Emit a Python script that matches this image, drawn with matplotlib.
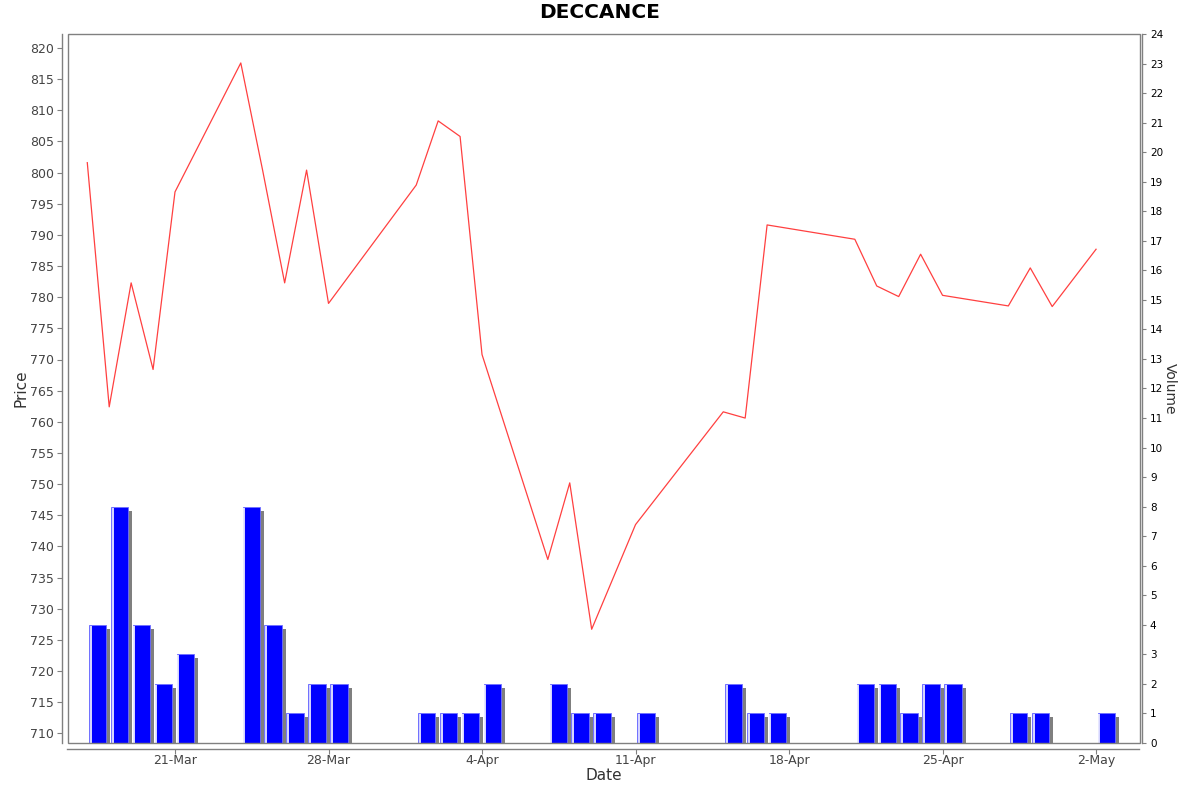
import matplotlib
matplotlib.use("Agg")
import matplotlib.pyplot as plt
import matplotlib.dates as mdates
import matplotlib.transforms as mtransforms
from matplotlib.patches import Rectangle
import numpy as np
import pandas as pd

title = "DECCANCE"
dates = ["2025-03-17", "2025-03-18", "2025-03-19", "2025-03-20", "2025-03-21",
         "2025-03-24", "2025-03-25", "2025-03-26", "2025-03-27", "2025-03-28",
         "2025-04-01", "2025-04-02", "2025-04-03", "2025-04-04",
         "2025-04-07", "2025-04-08", "2025-04-09", "2025-04-11",
         "2025-04-15", "2025-04-16", "2025-04-17",
         "2025-04-21", "2025-04-22", "2025-04-23", "2025-04-24", "2025-04-25",
         "2025-04-28", "2025-04-29", "2025-04-30", "2025-05-02"]
prices = [801.6, 762.4, 782.3, 768.4, 796.9,
          817.6, 800.3, 782.3, 800.4, 779.0,
          798.0, 808.3, 805.8, 770.8,
          737.9, 750.2, 726.7, 743.5,
          761.6, 760.6, 791.6,
          789.3, 781.8, 780.1, 786.9, 780.3,
          778.6, 784.7, 778.5, 787.7]
volumes = [4, 8, 4, 2, 3,
           8, 4, 1, 2, 2,
           1, 1, 1, 2,
           2, 1, 1, 1,
           2, 1, 1,
           2, 2, 1, 2, 2,
           1, 1, 0, 1]
xtick_dates = ["2025-03-21", "2025-03-28", "2025-04-04", "2025-04-11",
               "2025-04-18", "2025-04-25", "2025-05-02"]
price_ticks = list(range(710, 821, 5))
volume_ticks = list(range(0, 25))

W, H = 1200, 792
fig = plt.figure(figsize=(W / 100, H / 100), dpi=100)
L, R, T, B = 67.5, 1139.5, 34, 743
ax = fig.add_axes([L / W, 1 - B / H, (R - L) / W, (B - T) / H])
ax2 = ax.twinx()

x = mdates.date2num(pd.to_datetime(dates))
x0 = mdates.date2num(pd.Timestamp("2025-03-21"))
px_per_day = 21.93
xmin = x0 - (175 - L) / px_per_day
xmax = x0 + (R - 175) / px_per_day

tick_gray = "#444444"
axis_gray = "#808080"

# volume bars on right axis
bar_left = x + 0.08
bar_w = 0.79
shadow_tr = ax2.transData + mtransforms.ScaledTranslation(4 / 100, -4 / 100, fig.dpi_scale_trans)
ax2.bar(bar_left, volumes, width=bar_w, align="edge", color="#7f7f7f",
        linewidth=0, transform=shadow_tr, zorder=1)
ax2.bar(bar_left, volumes, width=bar_w, align="edge", color="#0000ff",
        edgecolor="#7070ff", linewidth=0.6, zorder=2)
hl_tr = ax2.transData + mtransforms.ScaledTranslation(1.6 / 100, 0, fig.dpi_scale_trans)
for bl, v in zip(bar_left, volumes):
    if v > 0:
        ax2.plot([bl, bl], [0, v - 0.03], color="white", linewidth=1.2,
                 transform=hl_tr, zorder=3, solid_capstyle="butt")

ax2.set_ylim(0, 24)
ax2.set_yticks(volume_ticks)
ax2.tick_params(axis="y", labelsize=7.5, colors="black", length=3, width=0.8,
                direction="out", pad=3)
ax2.tick_params(axis="y", color=axis_gray)
ax2.set_ylabel("Volume", rotation=270, fontsize=10, color="#333333", labelpad=10)

# price line on left axis (draw above bars)
ax.set_zorder(ax2.get_zorder() + 1)
ax.patch.set_visible(False)
ax.plot(x, prices, color="#ff4040", linewidth=0.9, zorder=5)
ax.set_xlim(xmin, xmax)
ax2.set_xlim(xmin, xmax)
ax.set_ylim(710 - (B - 733.3) / 6.23, 820 + (48 - T) / 6.23)
ax.set_yticks(price_ticks)
ax.set_xticks(mdates.date2num(pd.to_datetime(xtick_dates)))
ax.xaxis.set_major_formatter(mdates.DateFormatter("%-d-%b"))
ax.tick_params(axis="both", labelsize=9, colors=tick_gray, length=3.5, width=0.8,
               direction="out", pad=2)
ax.tick_params(axis="x", pad=0.5)
ax.tick_params(axis="both", color=axis_gray)

ax.set_xlabel("Date", fontsize=11, color="#333333", labelpad=1)
ax.set_ylabel("Price", fontsize=11, color="#333333", labelpad=1)

# spines: frame + offset axis lines
for a in (ax, ax2):
    for s in a.spines.values():
        s.set_visible(False)
for side in ("left", "bottom"):
    ax.spines[side].set_visible(True)
    ax.spines[side].set_position(("outward", 4))
    ax.spines[side].set_color(axis_gray)
    ax.spines[side].set_linewidth(1.0)
ax2.spines["right"].set_visible(True)
ax2.spines["right"].set_position(("outward", 1.5))
ax2.spines["right"].set_color(axis_gray)
ax2.spines["right"].set_linewidth(1.0)

frame = Rectangle((0, 0), 1, 1, transform=ax.transAxes, fill=False,
                  edgecolor=axis_gray, linewidth=1.0, zorder=10, clip_on=False)
ax.add_patch(frame)

fig.text(0.5, 1 - 13 / H, title, ha="center", va="center", fontsize=14.5,
         fontweight="bold", color="black")

fig.savefig("out.png", dpi=100)
